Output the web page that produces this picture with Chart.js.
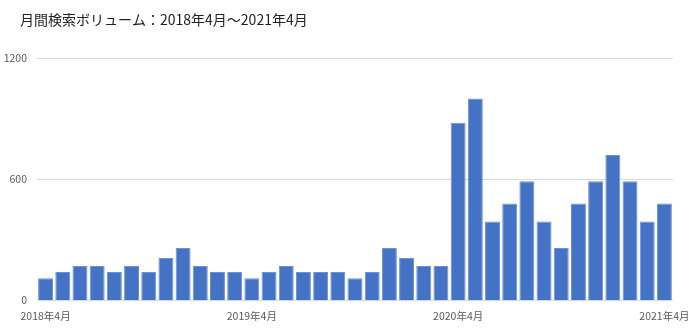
<!DOCTYPE html>
<html>
<head>
<meta charset="utf-8">
<script src="https://cdn.jsdelivr.net/npm/chart.js@4.4.0/dist/chart.umd.min.js"></script>
<style>
  html, body { margin: 0; padding: 0; background: #fff; }
  #wrap { width: 700px; height: 333px; }
</style>
</head>
<body>
<div id="wrap"><canvas id="chart"></canvas></div>
<script>
var titleText = "月間検索ボリューム：2018年4月～2021年4月";

var months = [
  "2018年4月","2018年5月","2018年6月","2018年7月","2018年8月","2018年9月",
  "2018年10月","2018年11月","2018年12月","2019年1月","2019年2月","2019年3月",
  "2019年4月","2019年5月","2019年6月","2019年7月","2019年8月","2019年9月",
  "2019年10月","2019年11月","2019年12月","2020年1月","2020年2月","2020年3月",
  "2020年4月","2020年5月","2020年6月","2020年7月","2020年8月","2020年9月",
  "2020年10月","2020年11月","2020年12月","2021年1月","2021年2月","2021年3月",
  "2021年4月"
];

var volume = [
  110, 140, 170, 170, 140, 170, 140, 210, 260, 170, 140, 140,
  110, 140, 170, 140, 140, 140, 110, 140, 260, 210, 170, 170,
  880, 1000, 390, 480, 590, 390, 260, 480, 590, 720, 590, 390,
  480
];

var yTicks = [0, 600, 1200];

// title drawn at top-left like the Excel original
var titlePlugin = {
  id: "topTitle",
  afterDraw: function(chart) {
    var ctx = chart.ctx;
    ctx.save();
    ctx.font = "14px 'Noto Sans CJK JP'";
    ctx.fillStyle = "#222";
    ctx.textBaseline = "middle";
    ctx.textAlign = "left";
    ctx.fillText(titleText, 20, 20);
    ctx.restore();
  }
};

var ctx1 = document.getElementById("chart");
var chart1 = new Chart(ctx1, {
  type: "bar",
  data: {
    labels: months,
    datasets: [{
      data: volume,
      backgroundColor: "#4472C4",
      borderColor: "#6f90d2",
      borderWidth: 1,
      categoryPercentage: 1,
      barPercentage: 0.87
    }]
  },
  options: {
    responsive: true,
    maintainAspectRatio: false,
    animation: false,
    layout: { padding: { top: 58, right: 27, bottom: 2, left: 0 } },
    plugins: {
      legend: { display: false },
      tooltip: { enabled: false }
    },
    scales: {
      x: {
        grid: { display: false, drawTicks: false },
        border: { display: false },
        ticks: {
          autoSkip: false,
          maxRotation: 0,
          padding: 9,
          color: "#595959",
          font: { family: "'Noto Sans CJK JP'", size: 10.5 },
          callback: function(v, i) { return i % 12 === 0 ? months[i] : ""; }
        }
      },
      y: {
        min: 0,
        max: 1200,
        afterFit: function(s) { s.width = 37; },
        afterBuildTicks: function(s) { s.ticks = yTicks.map(function(v) { return { value: v }; }); },
        grid: { color: "#d9d9d9", lineWidth: 1, drawTicks: false },
        border: { display: false },
        ticks: {
          padding: 10,
          color: "#595959",
          font: { family: "'Noto Sans CJK JP'", size: 10.5 },
          callback: function(v) { return String(v); }
        }
      }
    }
  },
  plugins: [titlePlugin]
});
</script>
</body>
</html>
